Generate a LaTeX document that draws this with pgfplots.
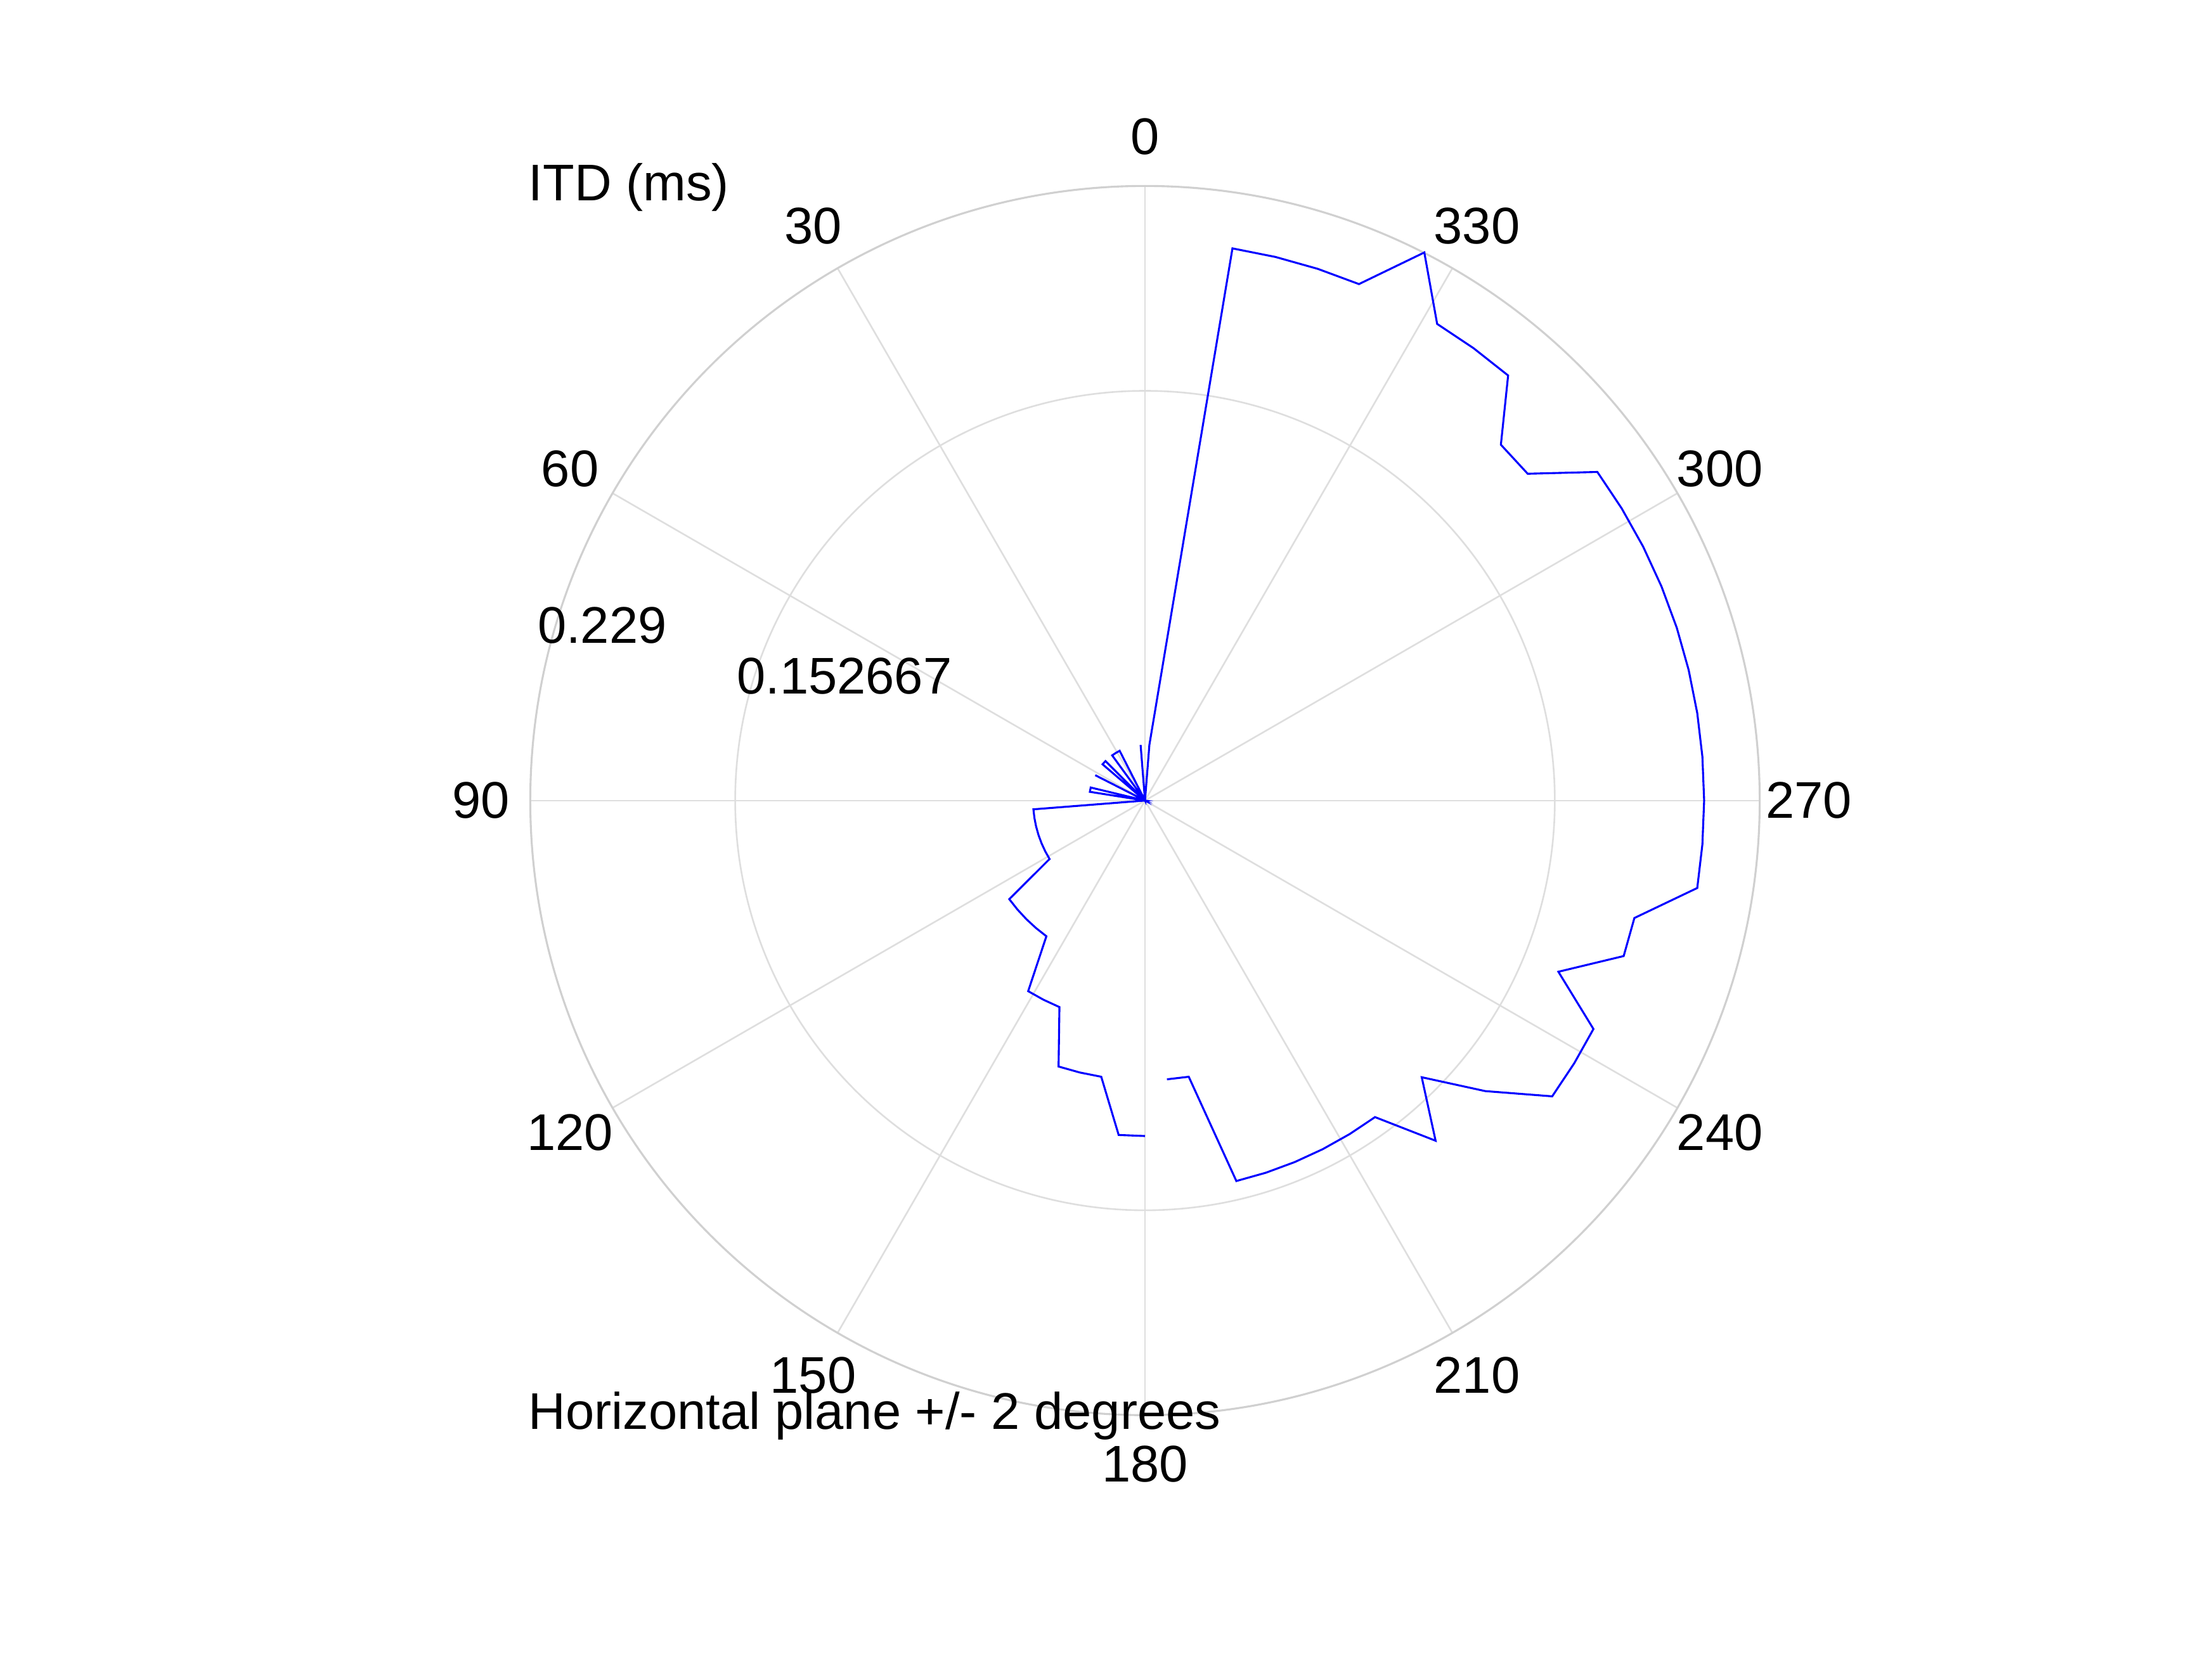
\documentclass[border=0pt]{standalone}
\usepackage{pgfplots}
\pgfplotsset{compat=1.18}
\usepackage{pgfplotstable}
\usepackage{fontspec}
\setmainfont{Liberation Sans}
\definecolor{gridc}{RGB}{222,222,222}
\definecolor{outerc}{RGB}{208,208,208}
\definecolor{itdblue}{RGB}{0,0,255}
% azimuth (deg, counter-clockwise from front) and ITD (ms)
\pgfplotstableread{
theta r
184.5 0.1042
189 0.1042
193.5 0.1458
198 0.1458
202.5 0.1458
207 0.1458
211.5 0.1458
216 0.1458
220.5 0.1667
225 0.1458
229.5 0.1667
234 0.1875
238.5 0.1875
243 0.1875
247.5 0.1667
252 0.1875
256.5 0.1875
261 0.2083
265.5 0.2083
270 0.2083
274.5 0.2083
279 0.2083
283.5 0.2083
288 0.2083
292.5 0.2083
297 0.2083
301.5 0.2083
306 0.2083
310.5 0.1875
315 0.1875
319.5 0.2083
324 0.2083
328.5 0.2083
333 0.2292
337.5 0.2083
342 0.2083
346.5 0.2083
351 0.2083
355.5 0.0208
360 0
4.5 0.0208
9 0
13.5 0
18 0
22.5 0
27 0.0208
31.5 0.0208
36 0.0208
40.5 0
45 0.0208
49.5 0.0208
54 0
58.5 0
63 0.0208
67.5 0
72 0
76.5 0.0208
81 0.0208
85.5 0
90 0
94.5 0.0417
99 0.0417
103.5 0.0417
108 0.0417
112.5 0.0417
117 0.0417
121.5 0.0417
126 0.0625
130.5 0.0625
135 0.0625
139.5 0.0625
144 0.0625
148.5 0.0833
153 0.0833
157.5 0.0833
162 0.1042
166.5 0.1042
171 0.1042
175.5 0.1250
180 0.1250
}\itddata
\begin{document}
\begin{tikzpicture}[every node/.style={font=\fontsize{13.1}{15.7}\selectfont, inner sep=0pt}]
\begin{axis}[
  width=560bp, height=420bp, scale only axis,
  xmin=-0.42655, xmax=0.39750, ymin=-0.31979, ymax=0.29830,
  hide axis, clip=false,
]
\path (rel axis cs:0,0) rectangle (rel axis cs:1,1);
% spokes
\draw[gridc, line width=0.42bp] (axis cs:0,0) -- (axis cs:0,0.229);
\draw[gridc, line width=0.42bp] (axis cs:0,0) -- (axis cs:-0.1145,0.19832);
\draw[gridc, line width=0.42bp] (axis cs:0,0) -- (axis cs:-0.19832,0.1145);
\draw[gridc, line width=0.42bp] (axis cs:0,0) -- (axis cs:-0.229,0);
\draw[gridc, line width=0.42bp] (axis cs:0,0) -- (axis cs:-0.19832,-0.1145);
\draw[gridc, line width=0.42bp] (axis cs:0,0) -- (axis cs:-0.1145,-0.19832);
\draw[gridc, line width=0.42bp] (axis cs:0,0) -- (axis cs:0,-0.229);
\draw[gridc, line width=0.42bp] (axis cs:0,0) -- (axis cs:0.1145,-0.19832);
\draw[gridc, line width=0.42bp] (axis cs:0,0) -- (axis cs:0.19832,-0.1145);
\draw[gridc, line width=0.42bp] (axis cs:0,0) -- (axis cs:0.229,0);
\draw[gridc, line width=0.42bp] (axis cs:0,0) -- (axis cs:0.19832,0.1145);
\draw[gridc, line width=0.42bp] (axis cs:0,0) -- (axis cs:0.1145,0.19832);
% circles
\draw[gridc, line width=0.42bp] (axis cs:0,0) circle[radius=0.152667];
\draw[outerc, line width=0.5bp] (axis cs:0,0) circle[radius=0.229];
% data
\addplot[itdblue, line width=0.5bp, mark=none, line join=miter]
  table[x expr={-\thisrow{r}*sin(\thisrow{theta})}, y expr={\thisrow{r}*cos(\thisrow{theta})}] {\itddata};
% angle labels
\node[anchor=center] at (axis cs:0,0.2473) {0};
\node[anchor=center] at (axis cs:-0.12365,0.21417) {30};
\node[anchor=center] at (axis cs:-0.21417,0.12365) {60};
\node[anchor=center] at (axis cs:-0.2473,0) {90};
\node[anchor=center] at (axis cs:-0.21417,-0.12365) {120};
\node[anchor=center] at (axis cs:-0.12365,-0.21417) {150};
\node[anchor=center] at (axis cs:0,-0.2473) {180};
\node[anchor=center] at (axis cs:0.12365,-0.21417) {210};
\node[anchor=center] at (axis cs:0.21417,-0.12365) {240};
\node[anchor=center] at (axis cs:0.2473,0) {270};
\node[anchor=center] at (axis cs:0.21417,0.12365) {300};
\node[anchor=center] at (axis cs:0.12365,0.21417) {330};
% radial labels
\node[anchor=center] at (axis cs:-0.20222,0.06519) {0.229};
\node[anchor=center] at (axis cs:-0.11200,0.04634) {0.152667};
% title and label
\node[anchor=base west] at (axis cs:-0.2299,0.22343) {ITD (ms)};
\node[anchor=base west] at (axis cs:-0.2299,-0.23429) {Horizontal plane +/- 2 degrees};
\end{axis}
\end{tikzpicture}
\end{document}
